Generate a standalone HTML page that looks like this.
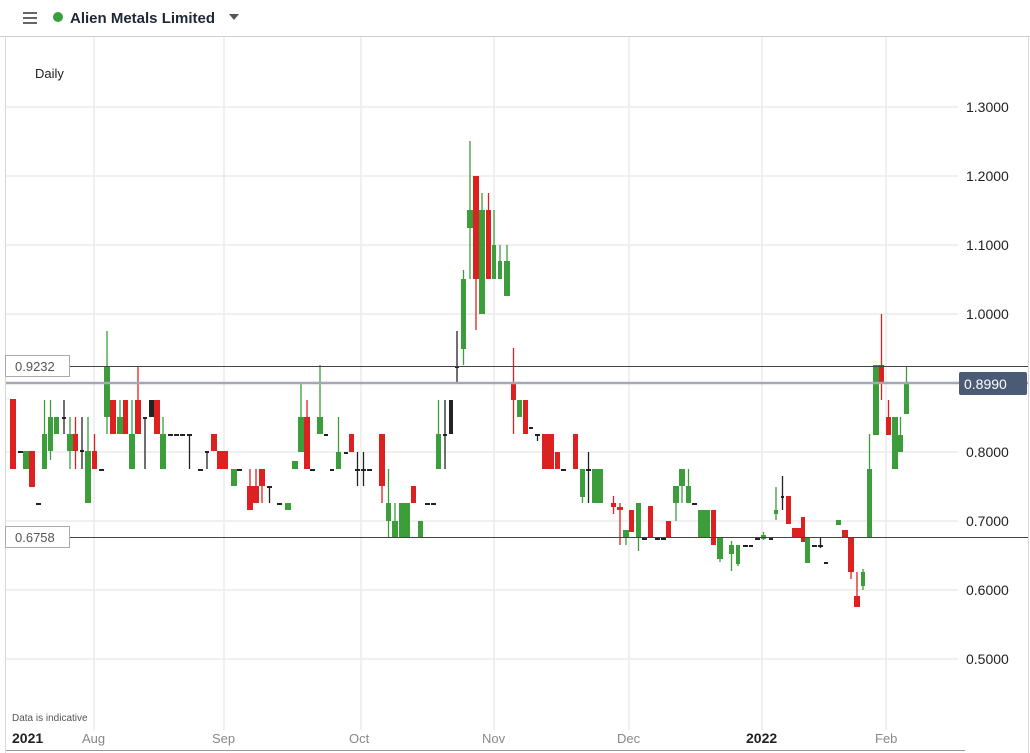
<!DOCTYPE html>
<html><head><meta charset="utf-8"><style>
body{margin:0;background:#fff;font-family:"Liberation Sans",sans-serif;}
#w{position:relative;width:1030px;height:753px;overflow:hidden;background:#fff}
</style></head><body><div id="w">
<svg id="s" width="1030" height="753" xmlns="http://www.w3.org/2000/svg" style="position:absolute;left:0;top:0">
<line x1="0" y1="36.5" x2="1030" y2="36.5" stroke="#d0d0d0"/>
<line x1="5.5" y1="36" x2="5.5" y2="753" stroke="#d8d8d8"/>
<line x1="1028.5" y1="36" x2="1028.5" y2="753" stroke="#d8d8d8"/>
<g stroke="#ececec" stroke-width="1.5">
<line x1="6" y1="107" x2="958" y2="107"/><line x1="6" y1="176" x2="958" y2="176"/><line x1="6" y1="245" x2="958" y2="245"/><line x1="6" y1="314" x2="958" y2="314"/><line x1="6" y1="452" x2="958" y2="452"/><line x1="6" y1="521" x2="958" y2="521"/><line x1="6" y1="590" x2="958" y2="590"/><line x1="6" y1="659" x2="958" y2="659"/>
<line x1="94" y1="37" x2="94" y2="730"/><line x1="224" y1="37" x2="224" y2="730"/><line x1="361" y1="37" x2="361" y2="730"/><line x1="494" y1="37" x2="494" y2="730"/><line x1="629" y1="37" x2="629" y2="730"/><line x1="762" y1="37" x2="762" y2="730"/><line x1="886" y1="37" x2="886" y2="730"/>
</g>
<g id="c"></g>
<line x1="6" y1="366.5" x2="1028" y2="366.5" stroke="#444" stroke-width="1"/>
<line x1="6" y1="383" x2="1028" y2="383" stroke="#a4a8b4" stroke-width="2.5"/>
<line x1="6" y1="537.5" x2="1028" y2="537.5" stroke="#444" stroke-width="1"/>
<rect x="5.5" y="355.5" width="64" height="21" fill="#fff" stroke="#aaa"/>
<text x="15" y="371" font-size="13" fill="#555">0.9232</text>
<rect x="5.5" y="526.5" width="64" height="21" fill="#fff" stroke="#aaa"/>
<text x="15" y="542" font-size="13" fill="#555">0.6758</text>
<rect x="959" y="372" width="68" height="23" rx="2" fill="#4b5a75"/>
<text x="964" y="389" font-size="14" fill="#fff">0.8990</text>
<g font-size="14" fill="#222">
<text x="966" y="112">1.3000</text><text x="966" y="181">1.2000</text><text x="966" y="250">1.1000</text><text x="966" y="319">1.0000</text><text x="966" y="457">0.8000</text><text x="966" y="526">0.7000</text><text x="966" y="595">0.6000</text><text x="966" y="664">0.5000</text>
</g>
<text x="35" y="78" font-size="13" fill="#222">Daily</text>
<text x="12" y="721" font-size="10" fill="#555">Data is indicative</text>
<g font-size="13" fill="#888">
<text x="82" y="743">Aug</text><text x="212" y="743">Sep</text><text x="349" y="743">Oct</text><text x="482" y="743">Nov</text><text x="617" y="743">Dec</text><text x="875" y="743">Feb</text>
</g>
<text x="12" y="743" font-size="14" font-weight="bold" fill="#222">2021</text>
<text x="746" y="743" font-size="14" font-weight="bold" fill="#222">2022</text>
<line x1="6" y1="750.5" x2="965" y2="750.5" stroke="#999"/>
<g stroke="#666" stroke-width="2"><line x1="23" y1="13" x2="37" y2="13"/><line x1="23" y1="18" x2="37" y2="18"/><line x1="23" y1="23" x2="37" y2="23"/></g>
<circle cx="58" cy="17" r="5" fill="#3a9e3a"/>
<text x="70" y="23" font-size="15" font-weight="bold" fill="#1e2638">Alien Metals Limited</text>
<polygon points="229,14 239,14 234,20" fill="#555"/>
</svg>
<script>
var d=[
[10,16,399,469,399,469,'r'],[18,23,451,453,451,453,'k'],[23,29,451,469,451,469,'g'],[29,35,451,487,451,487,'r'],[36,41,503,505,503,505,'k'],
[42,47,434,469,400,469,'g'],[48,53,417,451,400,460,'g'],[54,59,417,434,417,434,'g'],[62,66,417,419,400,434,'k'],[67,73,434,451,417,469,'g'],
[73,78,434,451,417,469,'r'],[80,84,450,452,417,469,'k'],[85,91,451,503,417,503,'g'],[92,97,451,469,434,469,'r'],[99,104,469,471,469,471,'k'],
[104,110,366,417,331,434,'g'],[110,116,400,434,400,434,'r'],[117,123,417,434,400,434,'g'],[123,128,400,434,400,434,'r'],[129,135,434,469,400,469,'g'],
[135,141,400,434,366,434,'r'],[143,147,417,419,417,469,'k'],[149,154,400,417,400,417,'k'],[154,160,400,434,400,434,'r'],[160,166,434,469,417,469,'g'],
[168,173,434,436,434,436,'k'],[174,179,434,436,434,436,'k'],[180,185,434,436,434,436,'k'],[187,192,434,436,434,469,'k'],[198,203,469,471,469,471,'k'],
[205,209,451,453,451,469,'k'],[211,217,434,451,434,451,'r'],[217,228,451,469,451,469,'r'],[231,237,469,486,469,486,'g'],[237,242,469,471,469,471,'k'],
[247,253,486,510,469,510,'r'],[253,259,486,503,469,503,'r'],[259,265,469,486,469,503,'r'],[267,272,486,488,486,503,'k'],[277,282,503,505,503,505,'k'],
[285,291,503,510,503,510,'g'],[292,298,461,469,461,469,'g'],[298,304,417,452,383,452,'g'],[304,310,417,469,400,469,'r'],[310,315,469,471,469,471,'k'],
[317,323,417,434,365,434,'g'],[324,328,434,436,434,436,'k'],[330,334,469,471,469,471,'k'],[336,341,452,469,417,469,'g'],[344,348,452,454,452,454,'k'],
[349,354,434,452,434,452,'r'],[355,360,469,471,452,486,'k'],[361,366,469,471,452,486,'k'],[367,372,469,471,469,471,'k'],[379,385,434,486,434,503,'r'],
[386,391,503,521,469,538,'g'],[392,398,521,538,503,538,'g'],[399,410,503,538,503,538,'g'],[411,416,486,503,486,503,'r'],[418,423,521,538,521,538,'g'],
[425,430,503,505,503,505,'k'],[431,436,503,505,503,505,'k'],[436,441,434,469,400,469,'g'],[443,447,434,436,400,469,'k'],[449,453,400,434,400,434,'k'],
[455,459,366,368,331,383,'k'],[461,466,279,349,270,365,'g'],[467,473,210,228,141,279,'g'],[473,479,176,279,176,330,'r'],[479,485,210,314,193,314,'g'],
[486,491,210,279,193,279,'r'],[492,496,245,279,210,279,'g'],[498,502,261,279,245,279,'g'],[504,510,261,296,245,296,'g'],[511,516,383,400,348,434,'r'],
[517,522,400,417,400,417,'g'],[523,528,400,434,400,434,'r'],[529,533,427,429,427,429,'k'],[535,540,434,436,434,441,'k'],[542,554,434,469,434,469,'r'],
[555,560,452,469,452,469,'r'],[561,566,469,471,469,471,'k'],[573,578,434,469,434,469,'r'],[580,585,469,497,469,503,'g'],[586,591,469,471,452,503,'k'],
[592,603,469,503,469,503,'g'],[611,616,503,507,496,514,'r'],[617,623,507,510,503,545,'r'],[623,629,530,538,530,545,'g'],[629,634,510,532,510,532,'r'],
[636,641,503,538,503,551,'g'],[642,647,538,540,538,540,'k'],[648,653,506,538,506,538,'r'],[655,660,538,540,538,540,'k'],[661,666,538,540,538,540,'k'],
[666,671,521,538,521,538,'r'],[673,679,486,503,486,521,'g'],[679,685,469,486,469,503,'g'],[686,691,486,503,469,503,'g'],[692,697,503,505,503,505,'k'],
[698,710,510,538,510,538,'g'],[711,716,510,545,510,545,'r'],[717,723,538,559,538,562,'g'],[729,734,545,554,541,571,'g'],[736,740,545,564,545,566,'g'],
[743,748,545,547,545,547,'k'],[749,753,545,547,545,547,'k'],[755,760,538,540,538,540,'k'],[761,766,535,539,532,540,'g'],[769,773,538,540,538,540,'k'],
[774,778,510,514,487,520,'g'],[781,784,496,498,476,510,'k'],[786,791,496,524,496,524,'r'],[792,801,528,538,528,538,'r'],[801,805,517,542,517,542,'r'],
[805,810,538,563,538,563,'g'],[812,817,545,547,545,547,'k'],[818,823,545,547,538,548,'k'],[824,828,562,564,562,564,'k'],[836,841,520,525,520,525,'g'],
[842,848,530,538,530,538,'r'],[848,854,538,572,538,579,'r'],[854,860,596,607,572,607,'r'],[861,865,572,586,569,590,'g'],[867,872,469,538,434,538,'g'],
[873,879,365,435,365,435,'g'],[879,884,365,383,314,400,'r'],[886,891,417,435,400,435,'r'],[892,898,417,469,417,469,'g'],[898,903,435,452,417,452,'g'],
[904,909,383,414,366,414,'g']];
var col={g:'#3c9e3a',r:'#dd2020',k:'#222'},h='';
d.forEach(function(a){var x0=a[0],x1=a[1],c=col[a[6]],m=(x0+x1)/2;
h+='<line x1="'+m+'" y1="'+a[4]+'" x2="'+m+'" y2="'+a[5]+'" stroke="'+c+'" stroke-width="1.3"/>';
var bh=Math.max(2,a[3]-a[2]);h+='<rect x="'+x0+'" y="'+a[2]+'" width="'+(x1-x0)+'" height="'+bh+'" fill="'+c+'"/>';});
document.getElementById('c').innerHTML=h;
</script>
</div></body></html>
